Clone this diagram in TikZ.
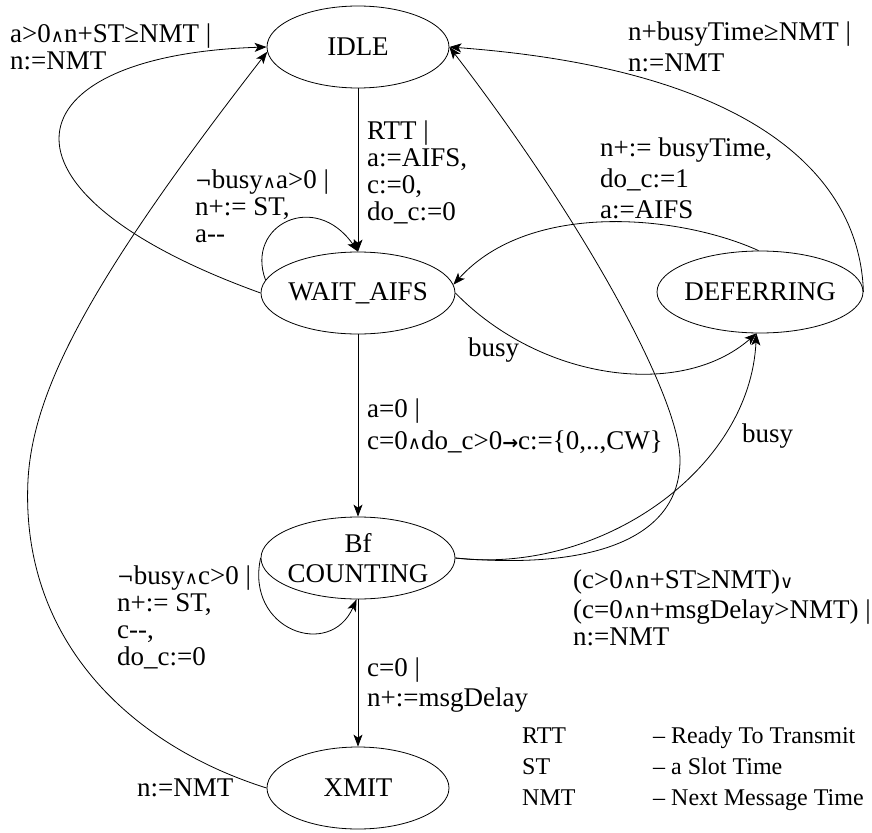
\documentclass[tikz,border=0pt]{standalone}
\usepackage{fontspec}
\setmainfont{Liberation Serif}
\newfontfamily\symfont{DejaVu Serif}
\newfontfamily\arrfont{DejaVu Sans}
\usetikzlibrary{shapes.geometric,arrows.meta}
\newcommand{\myand}{{\symfont\fontsize{18}{18}\selectfont ∧}}
\newcommand{\myor}{{\symfont\fontsize{18}{18}\selectfont ∨}}
\newcommand{\mynot}{{\symfont\fontsize{20}{20}\selectfont ¬}}
\newcommand{\myto}{{\arrfont\bfseries\fontsize{19}{19}\selectfont →}}
\tikzset{
  every node/.style={font=\fontsize{27}{27}\selectfont},
  state/.style={draw, ellipse, inner ysep=0pt, inner xsep=-5pt, minimum height=82pt, line width=0.8pt},
  edge/.style={line width=0.8pt, -{Stealth[length=12pt,width=9pt,inset=3pt]}},
  lbl/.style={anchor=west, align=left, inner sep=0pt},
}
\begin{document}
\begin{tikzpicture}[x=1pt,y=-1pt]
\useasboundingbox (0,0) rectangle (872,832);
% states
\node[state, minimum width=182pt] (idle) at (358,47) {IDLE};
\node[state, minimum width=194pt] (wait) at (358,293) {WAIT\_AIFS};
\node[state, minimum width=206pt] (defer) at (760,292) {DEFERRING};
\node[state, minimum width=194pt, align=center] (bf) at (358,558) {Bf\\[3pt]COUNTING};
\node[state, minimum width=182pt] (xmit) at (358,788) {XMIT};
% straight transitions
\draw[edge] (idle) -- (wait);
\draw[edge] (wait) -- (bf);
\draw[edge] (bf) -- (xmit);
% self loops
\draw[edge] (wait.172) .. controls (245,225) and (315,190) .. (wait.north);
\draw[edge] (bf.west) .. controls (245,630) and (330,660) .. (bf.268);
% back to IDLE
\draw[edge] (wait.west) .. controls (-25,190) and (10,55) .. (idle.west);
\draw[edge] (xmit.west) .. controls (130,745) and (20,640) .. (28,480)
  .. controls (33,390) and (90,280) .. (idle.183);
\draw[edge] (defer.east) .. controls (860,180) and (760,70) .. (idle.east);
\draw[edge] (bf.east) .. controls (590,570) and (680,540) .. (680,460)
  .. controls (680,400) and (590,230) .. (idle.east);
% deferring
\draw[edge] (defer.92) .. controls (680,215) and (530,200) .. (wait.5);
\draw[edge] (wait.east) .. controls (540,380) and (680,400) .. (defer.265);
\draw[edge] (bf.east) .. controls (600,575) and (750,470) .. (defer.265);
% labels
\node[lbl] (l1) at (10,47) {a>0\myand n+ST≥NMT |\\n:=NMT};
\node[lbl] (l2) at (367,172) {RTT |\\a:=AIFS,\\c:=0,\\do\_c:=0};
\node[lbl] (l3) at (195,206) {\mynot busy\myand a>0 |\\n+:= ST,\\a-\kern0pt-};
\node[lbl] (l4) at (367,426) {a=0 |\\[5pt]c=0\myand do\_c>0\myto c:=\{0,..,CW\}};
\node[lbl] (l5) at (600,178) {n+:= busyTime,\\[4pt]do\_c:=1\\[4pt]a:=AIFS};
\node[lbl] (l6) at (628,47) {n+busyTime≥NMT |\\[4pt]n:=NMT};
\node[lbl] (l7) at (468,350) {busy};
\node[lbl] (l8) at (742,436) {busy};
\node[lbl] (l9) at (573,608) {(c>0\myand n+ST≥NMT)\myor\\[3pt](c=0\myand n+msgDelay>NMT) |\\n:=NMT};
\node[lbl] (l10) at (117,617) {\mynot busy\myand c>0 |\\n+:= ST,\\c-\kern0pt-,\\do\_c:=0};
\node[lbl] (l11) at (367,685) {c=0 |\\[3pt]n+:=msgDelay};
\node[lbl] (l12) at (137,788) {n:=NMT};
\node[lbl, font=\fontsize{24}{27}\selectfont] (legend) at (522,769) {\begin{tabular}{@{}p{131pt}@{}l@{}}RTT & – Ready To Transmit\\[4pt] ST & – a Slot Time\\[4pt] NMT & – Next Message Time\end{tabular}};
\end{tikzpicture}
\end{document}
